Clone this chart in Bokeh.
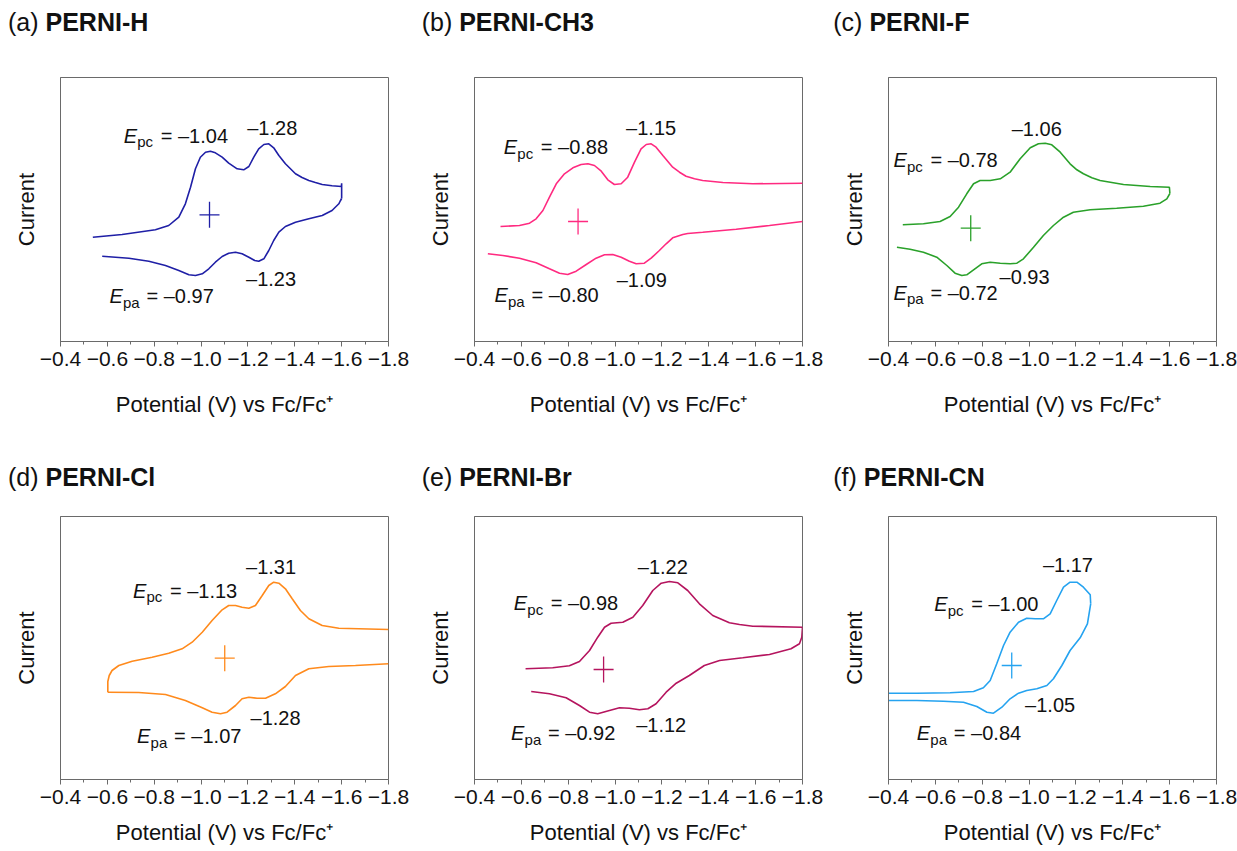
import math
from bokeh.plotting import figure
from bokeh.layouts import column, row
from bokeh.models import Range1d, FixedTicker, Label, Div
from bokeh.embed import file_html
from bokeh.resources import INLINE

FONT = "Liberation Sans"

# ---------------- axis ticks ----------------
tick_values = [-0.4, -0.6, -0.8, -1.0, -1.2, -1.4, -1.6, -1.8]
tick_labels = ["\u22120.4", "\u22120.6", "\u22120.8", "\u22121.0", "\u22121.2", "\u22121.4", "\u22121.6", "\u22121.8"]
minor_tick_values = [-0.5, -0.7, -0.9, -1.1, -1.3, -1.5, -1.7]
x_axis_title = "Potential (V) vs Fc/Fc\u207a"
y_axis_title = "Current"

panel_letters = ["(a)", "(b)", "(c)", "(d)", "(e)", "(f)"]
compounds = ["PERNI-H", "PERNI-CH3", "PERNI-F", "PERNI-Cl", "PERNI-Br", "PERNI-CN"]
line_colors = ["#1f1fa6", "#ff2a80", "#2aa12a", "#ff8a1c", "#b5145e", "#25a3f0"]

# ---------------- cyclic voltammograms (E in V vs Fc/Fc+, current in a.u.) ----------------
# PERNI-H
h_cath_E = [-0.538, -0.663, -0.805, -0.862, -0.905, -0.933, -0.955, -0.976, -0.997, -1.019, -1.040, -1.061,
            -1.090, -1.118, -1.154, -1.182, -1.204, -1.225, -1.246, -1.268, -1.289, -1.310, -1.332, -1.360,
            -1.403, -1.431, -1.460, -1.488, -1.517, -1.559, -1.599, -1.600, -1.600]
h_cath_I = [104.3, 107.0, 111.7, 116.0, 124.3, 137.7, 154.3, 172.7, 184.3, 189.3, 190.3, 188.7,
            184.3, 178.3, 172.7, 171.7, 175.0, 184.3, 192.7, 197.0, 197.7, 193.7, 186.0, 177.7,
            167.7, 164.0, 161.0, 159.0, 157.0, 155.7, 155.0, 158.3, 143.0]
h_anod_E = [-1.600, -1.594, -1.588, -1.559, -1.517, -1.460, -1.403, -1.360, -1.332, -1.310, -1.289, -1.268,
            -1.246, -1.229, -1.204, -1.175, -1.147, -1.118, -1.090, -1.061, -1.033, -1.005, -0.976, -0.948,
            -0.905, -0.848, -0.777, -0.692, -0.578]
h_anod_I = [143.0, 140.5, 137.7, 131.0, 126.0, 122.7, 119.3, 115.0, 109.3, 101.0, 91.0, 82.7,
            80.3, 81.0, 84.3, 87.7, 89.3, 88.3, 85.0, 79.3, 72.7, 67.7, 66.0, 66.7,
            71.0, 76.0, 80.3, 83.3, 85.3]

# PERNI-CH3
ch3_cath_E = [-0.511, -0.592, -0.635, -0.663, -0.692, -0.720, -0.749, -0.784, -0.820, -0.855, -0.884, -0.912,
              -0.941, -0.969, -0.997, -1.026, -1.054, -1.083, -1.111, -1.133, -1.154, -1.175, -1.204, -1.246,
              -1.275, -1.303, -1.339, -1.374, -1.460, -1.588, -1.800]
ch3_cath_I = [115.0, 116.0, 118.3, 122.7, 131.0, 144.3, 157.7, 167.7, 173.7, 177.0, 177.7, 176.0,
              170.3, 161.7, 157.0, 157.7, 164.3, 179.3, 192.7, 197.0, 197.7, 194.3, 186.0, 174.3,
              169.3, 165.3, 162.7, 161.0, 159.0, 157.7, 158.3]
ch3_anod_E = [-1.800, -1.659, -1.517, -1.374, -1.310, -1.289, -1.246, -1.218, -1.189, -1.154, -1.125, -1.090,
              -1.061, -1.026, -0.990, -0.955, -0.919, -0.877, -0.834, -0.798, -0.763, -0.720, -0.663, -0.592,
              -0.521, -0.457]
ch3_anod_I = [120.0, 116.0, 112.3, 109.3, 108.0, 107.0, 103.7, 97.7, 91.0, 83.3, 78.3, 77.7,
              80.3, 84.3, 87.0, 86.7, 83.3, 77.0, 70.3, 67.0, 68.3, 72.7, 78.7, 83.3,
              86.0, 87.7]

# PERNI-F
f_cath_E = [-0.461, -0.549, -0.620, -0.663, -0.699, -0.734, -0.763, -0.791, -0.834, -0.877, -0.919, -0.962,
            -1.005, -1.040, -1.069, -1.097, -1.133, -1.175, -1.204, -1.232, -1.268, -1.303, -1.403, -1.517,
            -1.599, -1.601]
f_cath_I = [116.7, 117.7, 120.0, 125.0, 134.3, 147.7, 157.7, 161.0, 161.0, 162.7, 169.3, 182.7,
            193.7, 197.7, 198.3, 196.7, 189.3, 177.7, 171.7, 167.7, 163.7, 161.0, 157.0, 155.0,
            154.3, 148.0]
f_anod_E = [-1.601, -1.588, -1.559, -1.488, -1.374, -1.261, -1.189, -1.147, -1.104, -1.061, -1.019, -0.976,
            -0.948, -0.919, -0.877, -0.834, -0.798, -0.763, -0.734, -0.713, -0.684, -0.649, -0.606, -0.549,
            -0.492, -0.436]
f_anod_I = [148.0, 142.7, 138.3, 135.3, 133.3, 131.7, 129.3, 124.3, 116.0, 106.0, 94.3, 82.7,
            78.3, 77.7, 78.3, 79.3, 77.7, 71.7, 66.7, 66.0, 68.3, 76.0, 84.3, 89.3,
            92.3, 94.3]

# PERNI-Cl
cl_cath_E = [-0.602, -0.602, -0.608, -0.620, -0.649, -0.706, -0.791, -0.862, -0.919, -0.962, -1.005, -1.047,
             -1.090, -1.118, -1.147, -1.175, -1.204, -1.232, -1.261, -1.289, -1.310, -1.332, -1.360, -1.389,
             -1.424, -1.460, -1.517, -1.588, -1.800]
cl_cath_I = [87.3, 98.0, 104.0, 109.0, 114.0, 118.3, 122.3, 126.3, 130.7, 137.3, 147.3, 159.0,
             169.7, 174.0, 174.0, 172.3, 171.3, 174.0, 184.0, 194.0, 197.3, 196.3, 190.7, 180.7,
             169.0, 160.7, 154.0, 151.3, 150.0]
cl_anod_E = [-0.602, -0.734, -0.848, -0.933, -1.005, -1.047, -1.083, -1.111, -1.147, -1.175, -1.204, -1.239,
             -1.275, -1.317, -1.360, -1.403, -1.460, -1.545, -1.659, -1.800]
cl_anod_I = [87.3, 87.0, 85.0, 79.0, 71.7, 67.3, 65.7, 67.3, 74.0, 80.7, 82.3, 81.3,
             81.3, 85.7, 93.0, 104.0, 110.7, 113.0, 114.0, 115.7]

# PERNI-Br
br_cath_E = [-0.618, -0.734, -0.805, -0.848, -0.891, -0.926, -0.955, -0.983, -1.033, -1.076, -1.118, -1.161,
             -1.197, -1.232, -1.268, -1.310, -1.360, -1.417, -1.488, -1.531, -1.588, -1.800]
br_cath_I = [110.7, 111.7, 113.7, 118.0, 129.0, 142.3, 152.3, 156.3, 157.3, 162.3, 174.0, 189.0,
             196.3, 198.0, 196.7, 189.0, 175.7, 164.0, 156.7, 155.0, 153.3, 152.3]
br_anod_E = [-1.800, -1.797, -1.787, -1.751, -1.659, -1.545, -1.446, -1.381, -1.317, -1.261, -1.218, -1.175,
             -1.140, -1.104, -1.061, -1.019, -0.976, -0.926, -0.891, -0.848, -0.791, -0.720, -0.642]
br_anod_I = [152.3, 142.3, 135.7, 130.7, 125.0, 121.7, 119.0, 114.0, 104.0, 96.3, 87.3, 75.7,
             70.7, 69.7, 71.3, 71.7, 69.0, 65.7, 67.3, 74.0, 81.7, 85.7, 88.0]

# PERNI-CN
cn_cath_E = [-0.400, -0.521, -0.663, -0.763, -0.805, -0.834, -0.862, -0.891, -0.919, -0.955, -0.990, -1.026,
             -1.061, -1.090, -1.118, -1.147, -1.175, -1.204, -1.232, -1.261, -1.263]
cn_cath_I = [86.3, 86.3, 86.7, 88.0, 91.7, 99.0, 115.7, 134.0, 147.3, 157.3, 161.3, 160.7,
             160.7, 165.7, 179.0, 192.3, 197.3, 197.3, 192.3, 184.7, 175.7]
cn_anod_E = [-1.263, -1.249, -1.218, -1.175, -1.140, -1.104, -1.076, -1.033, -0.990, -0.955, -0.919, -0.884,
             -0.848, -0.820, -0.777, -0.720, -0.635, -0.521, -0.400]
cn_anod_I = [175.7, 155.7, 141.7, 129.0, 114.0, 100.7, 94.0, 90.7, 89.0, 86.3, 80.7, 72.3,
             66.3, 67.3, 73.0, 77.3, 78.3, 79.0, 79.0]

# reference cross marker
cross_E = [-1.036, -0.842, -0.751, -1.101, -0.951, -0.926]
cross_I = [126.7, 120.0, 113.3, 121.3, 110.0, 114.0]

# peak potential annotations
epc_values = ["\u20131.04", "\u20130.88", "\u20130.78", "\u20131.13", "\u20130.98", "\u20131.00"]
epc2_values = ["\u20131.28", "\u20131.15", "\u20131.06", "\u20131.31", "\u20131.22", "\u20131.17"]
epa_values = ["\u20130.97", "\u20130.80", "\u20130.72", "\u20131.07", "\u20130.92", "\u20130.84"]
epa2_values = ["\u20131.23", "\u20131.09", "\u20130.93", "\u20131.28", "\u20131.12", "\u20131.05"]

# annotation anchor positions (data units, text baseline)
epc_at_E = [-0.670, -0.525, -0.421, -0.709, -0.568, -0.595]
epc_at_I = [198.7, 187.0, 174.3, 181.7, 169.0, 168.0]
epc2_at_E = [-1.197, -1.047, -0.926, -1.192, -1.097, -1.059]
epc2_at_I = [206.0, 206.7, 205.0, 205.0, 205.7, 207.3]
epa_at_E = [-0.609, -0.485, -0.421, -0.727, -0.556, -0.521]
epa_at_I = [38.3, 39.3, 41.7, 36.3, 39.0, 39.0]
epa2_at_E = [-1.192, -1.007, -0.874, -1.211, -1.090, -0.983]
epa2_at_I = [55.0, 54.3, 57.7, 54.0, 47.3, 67.3]

cath_E = [h_cath_E, ch3_cath_E, f_cath_E, cl_cath_E, br_cath_E, cn_cath_E]
cath_I = [h_cath_I, ch3_cath_I, f_cath_I, cl_cath_I, br_cath_I, cn_cath_I]
anod_E = [h_anod_E, ch3_anod_E, f_anod_E, cl_anod_E, br_anod_E, cn_anod_E]
anod_I = [h_anod_I, ch3_anod_I, f_anod_I, cl_anod_I, br_anod_I, cn_anod_I]

# ---------------- layout constants ----------------
FRAME_W = 328
FIG_W = [414, 414, 409]
TITLE_H = [45, 60]            # height of title strip above each row
FIG_H = [391, 355]            # figure heights
BORDER_TOP = [32, 20]
FRAME_H = [264, 263]
TITLE_PAD_TOP = [8, 27]
TITLE_PAD_LEFT = [8, 7.7, 5.3]
XLAB_STANDOFF = [23, 13]
AXIS_COLOR = "#6a6a6a"
TEXT_COLOR = "#111111"
ANN_SIZE = 20
SUB_SIZE = 15


def lab(p, text, x, y, size, style="normal", xo=0, yo=0):
    # shift so that the given anchor is the text baseline
    p.add_layout(Label(x=x, y=y, text=text, x_offset=xo, y_offset=yo + 0.36 * size,
                       text_font=FONT, text_font_size=f"{size}px", text_font_style=style,
                       text_color=TEXT_COLOR, text_align="left", text_baseline="alphabetic"))


def make_title(i):
    r, c = divmod(i, 3)
    html = ('<div style="font-family:\'Liberation Sans\',Arial,sans-serif;font-size:25px;line-height:28px;'
            f'padding-left:{TITLE_PAD_LEFT[c]}px;padding-top:{TITLE_PAD_TOP[r]}px;white-space:nowrap;'
            f'color:{TEXT_COLOR};margin:0">{panel_letters[i]} <b>{compounds[i]}</b></div>')
    return Div(text=html, width=FIG_W[c], height=TITLE_H[r], margin=(0, 0, 0, 0))


def make_panel(i):
    r, c = divmod(i, 3)
    fw, fh = FIG_W[c], FIG_H[r]
    frame_h = FRAME_H[r]
    p = figure(width=fw, height=fh, x_range=Range1d(-0.4, -1.8), y_range=Range1d(0, frame_h),
               output_backend="svg", toolbar_location=None, title=None,
               min_border_left=60, min_border_right=fw - 60 - FRAME_W,
               min_border_top=BORDER_TOP[r], min_border_bottom=fh - BORDER_TOP[r] - frame_h)
    p.background_fill_color = "white"
    p.border_fill_color = "white"
    p.outline_line_color = AXIS_COLOR
    p.outline_line_width = 1
    p.xgrid.visible = False
    p.ygrid.visible = False

    ax = p.xaxis[0]
    ax.ticker = FixedTicker(ticks=tick_values, minor_ticks=minor_tick_values)
    ax.major_label_overrides = dict(zip(tick_values, tick_labels))
    ax.major_label_text_font = FONT
    ax.major_label_text_font_size = "21px"
    ax.major_label_text_color = TEXT_COLOR
    ax.major_label_standoff = 5
    ax.axis_line_color = AXIS_COLOR
    ax.major_tick_line_color = AXIS_COLOR
    ax.minor_tick_line_color = AXIS_COLOR
    ax.major_tick_out = 5
    ax.major_tick_in = 0
    ax.minor_tick_out = 3
    ax.minor_tick_in = 0
    ax.axis_label = x_axis_title
    ax.axis_label_text_font = FONT
    ax.axis_label_text_font_size = "22px"
    ax.axis_label_text_font_style = "normal"
    ax.axis_label_text_color = TEXT_COLOR
    ax.axis_label_standoff = XLAB_STANDOFF[r]

    ay = p.yaxis[0]
    ay.ticker = FixedTicker(ticks=[])
    ay.major_tick_out = 0
    ay.major_tick_in = 0
    ay.minor_tick_out = 0
    ay.minor_tick_in = 0
    ay.major_label_standoff = 0
    ay.axis_line_color = AXIS_COLOR
    ay.axis_label = y_axis_title
    ay.axis_label_text_font = FONT
    ay.axis_label_text_font_size = "22px"
    ay.axis_label_text_font_style = "normal"
    ay.axis_label_text_color = TEXT_COLOR
    ay.axis_label_standoff = 22

    color = line_colors[i]
    p.line(cath_E[i], cath_I[i], line_color=color, line_width=1.6)
    p.line(anod_E[i], anod_I[i], line_color=color, line_width=1.6)
    p.scatter([cross_E[i]], [cross_I[i]], marker="dash", size=20, line_color=color, line_width=1.3)
    p.scatter([cross_E[i]], [cross_I[i]], marker="dash", size=26, angle=math.pi / 2,
              line_color=color, line_width=1.3)

    # peak annotations
    lab(p, "E", epc_at_E[i], epc_at_I[i], ANN_SIZE, style="italic")
    lab(p, "pc", epc_at_E[i], epc_at_I[i], SUB_SIZE, xo=13.5, yo=-4.5)
    lab(p, "= " + epc_values[i], epc_at_E[i], epc_at_I[i], ANN_SIZE, xo=37)
    lab(p, epc2_values[i], epc2_at_E[i], epc2_at_I[i], ANN_SIZE)
    lab(p, "E", epa_at_E[i], epa_at_I[i], ANN_SIZE, style="italic")
    lab(p, "pa", epa_at_E[i], epa_at_I[i], SUB_SIZE, xo=13.5, yo=-4.5)
    lab(p, "= " + epa_values[i], epa_at_E[i], epa_at_I[i], ANN_SIZE, xo=37)
    lab(p, epa2_values[i], epa2_at_E[i], epa2_at_I[i], ANN_SIZE)
    return p


titles = [make_title(i) for i in range(6)]
panels = [make_panel(i) for i in range(6)]
layout = column(row(*titles[:3]), row(*panels[:3]), row(*titles[3:]), row(*panels[3:]))
open("out.html", "w").write(file_html(layout, INLINE))
